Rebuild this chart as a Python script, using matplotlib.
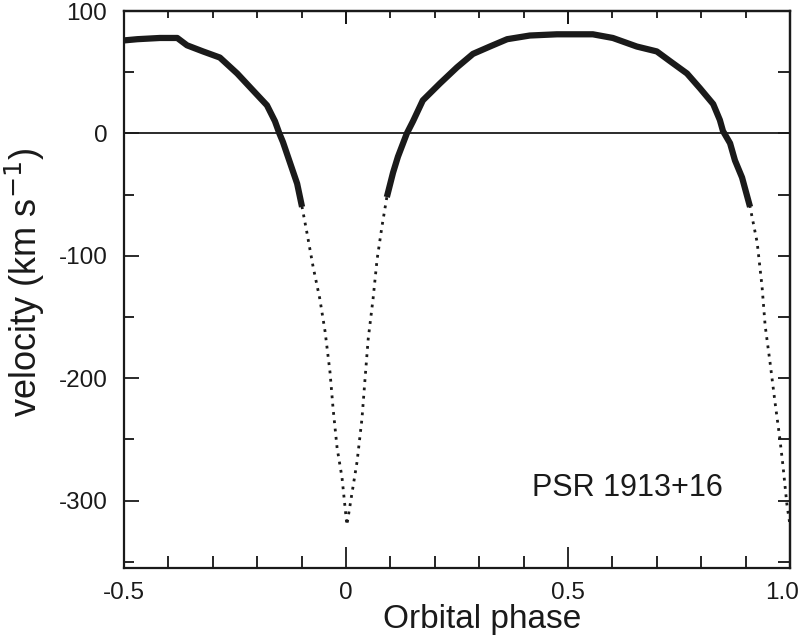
import numpy as np
import matplotlib.pyplot as plt
import matplotlib.transforms as mtransforms
from matplotlib.ticker import MultipleLocator

plt.rcParams['font.family'] = ['Liberation Sans', 'DejaVu Sans']
plt.rcParams['axes.unicode_minus'] = False

# orbital phase and radial velocity (km/s)
phase = [-0.500, -0.470, -0.419, -0.380, -0.358, -0.322, -0.284, -0.245, -0.209,
         -0.178, -0.160, -0.150, -0.142, -0.126, -0.110, -0.099, -0.088, -0.074,
         -0.059, -0.047, -0.036, -0.029, -0.020, -0.009, 0.002, 0.013, 0.025,
         0.036, 0.043, 0.050, 0.061, 0.070, 0.081, 0.092, 0.106, 0.117, 0.137,
         0.151, 0.173, 0.212, 0.250, 0.286, 0.324, 0.363, 0.414, 0.475, 0.534,
         0.556, 0.601, 0.655, 0.700, 0.730, 0.768, 0.797, 0.827, 0.842, 0.849,
         0.865, 0.876, 0.892, 0.910, 0.926, 0.937, 0.944, 0.955, 0.966, 0.977,
         0.984, 0.993, 1.000]
velocity = [76, 77, 78, 78, 72, 67, 62, 49, 35,
            23, 10, 0, -7, -24, -41, -60, -81, -109,
            -135, -162, -195, -225, -257, -281, -320, -295, -268,
            -233, -200, -168, -135, -103, -76, -52, -32, -19, 0,
            10, 27, 41, 54, 65, 71, 77, 80, 81, 81,
            81, 78, 71, 67, 59, 49, 37, 24, 11, 2,
            -8, -22, -36, -60, -89, -125, -157, -187, -219, -249,
            -271, -303, -320]

xticks = [-0.5, 0, 0.5, 1.0]
xticklabels = ['-0.5', '0', '0.5', '1.0']
yticks = [100, 0, -100, -200, -300]
yticklabels = ['100', '0', '-100', '-200', '-300']

ph = np.array(phase)
v = np.array(velocity, dtype=float)
v_flat = np.where(v > -65, v, np.nan)

fig = plt.figure(figsize=(8.04, 6.38), dpi=100)
ax = fig.add_axes([0.1542, 0.1097, 0.8284, 0.873])

ink = '#1a1a1a'
ax.plot(ph, v, color=ink, lw=2.0, ls=(0, (1, 2)))
ax.plot(ph, v_flat, color=ink, lw=4.5, solid_capstyle='butt')
ax.axhline(0, color=ink, lw=1.3)

ax.set_xlim(-0.5, 1.0)
ax.set_ylim(-355, 100)

ax.set_xticks(xticks)
ax.set_xticklabels(xticklabels)
ax.set_yticks(yticks)
ax.set_yticklabels(yticklabels)
ax.xaxis.set_minor_locator(MultipleLocator(0.1))
ax.yaxis.set_minor_locator(MultipleLocator(50))
ax.tick_params(axis='x', which='major', direction='in', length=15, width=1.3,
               pad=10, labelsize=17.5, colors=ink, top=False)
ax.tick_params(axis='x', which='minor', direction='in', length=9, width=1.2,
               top=False)
ax.tick_params(axis='y', which='major', direction='in', length=11, width=1.3,
               pad=12, labelsize=17.5, colors=ink, right=False)
ax.tick_params(axis='y', which='minor', direction='in', length=7, width=1.2,
               right=False)

# nudge the last x label so it stays inside the page
last = ax.get_xticklabels()[-1]
last.set_transform(last.get_transform() +
                   mtransforms.ScaledTranslation(-8 / 100, 0, fig.dpi_scale_trans))

top = ax.secondary_xaxis('top')
top.set_xticks(xticks)
top.set_xticklabels([])
top.xaxis.set_minor_locator(MultipleLocator(0.1))
top.tick_params(which='major', direction='in', length=9, width=1.3)
top.tick_params(which='minor', direction='in', length=5, width=1.2)

right = ax.secondary_yaxis('right')
right.set_yticks(np.arange(-350, 101, 50))
right.set_yticklabels([])
right.tick_params(which='major', direction='in', length=9, width=1.2)

for a in (ax, top, right):
    for s in a.spines.values():
        s.set_linewidth(1.6)
        s.set_color(ink)

ax.set_xlabel('Orbital phase', fontsize=24, color=ink)
ax.xaxis.set_label_coords(0.538, -0.065)
ax.set_ylabel('velocity (km s$^{-1}$)', fontsize=26, color=ink)
ax.yaxis.set_label_coords(-0.116, 0.513)

ax.text(0.419, -290, 'PSR 1913+16', fontsize=22, color=ink,
        ha='left', va='center')

fig.savefig('out.png', dpi=100)
